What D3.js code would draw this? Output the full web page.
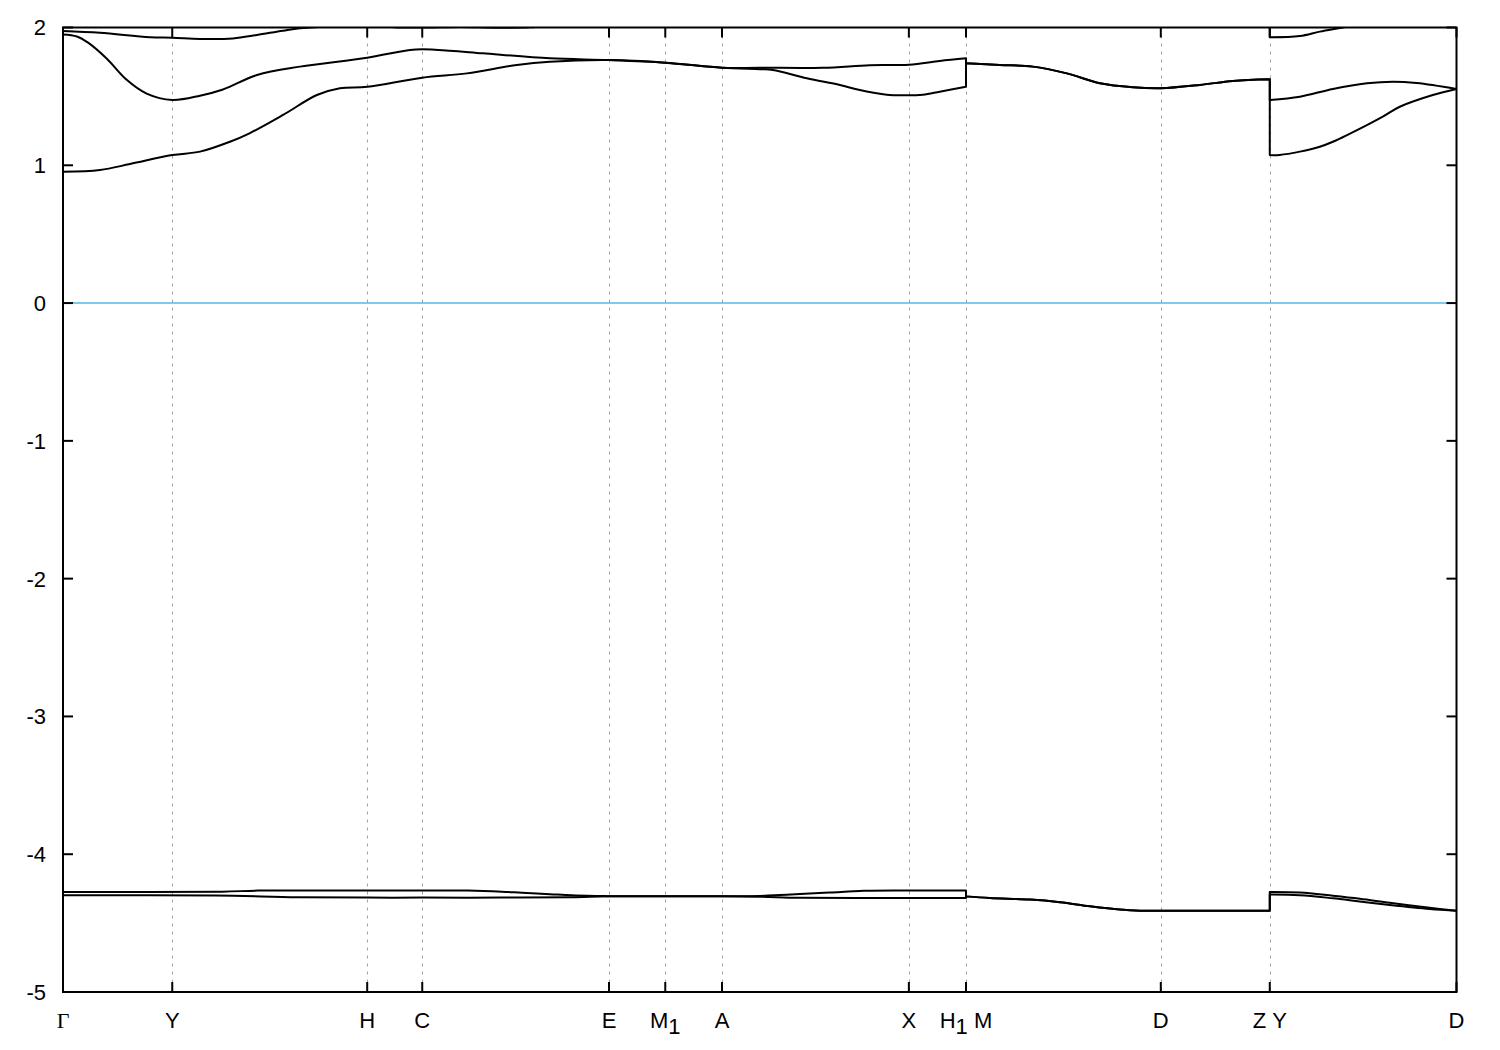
<!DOCTYPE html>
<html>
<head>
<meta charset="utf-8">
<script src="https://cdn.jsdelivr.net/npm/d3@7"></script>
<style>
  html, body { margin: 0; padding: 0; background: #fff; }
  svg { display: block; }
</style>
</head>
<body>
<svg id="chart" width="1500" height="1050"></svg>
<script>
// ---------- DATA ----------
const kTicks = [0, 0.784, 2.183, 2.578, 3.918, 4.322, 4.729, 6.070, 6.480, 7.878, 8.660, 10.0];
const kLabels = ["Γ", "Y", "H", "C", "E", "M|1", "A", "X", "H|1 M", "D", "Z Y", "D"];
const yTicks = [-5, -4, -3, -2, -1, 0, 1, 2];

// bands: [k, E]; repeated k marks a discontinuity (vertical jump)
const bandC1 = [
  [0, 0.953], [0.265, 0.966], [0.481, 1.009], [0.784, 1.074], [0.983, 1.099], [1.198, 1.171],
  [1.342, 1.234], [1.579, 1.365], [1.822, 1.510], [1.987, 1.559], [2.183, 1.570], [2.578, 1.636],
  [2.899, 1.667], [3.257, 1.728], [3.494, 1.752], [3.918, 1.764], [4.322, 1.745], [4.729, 1.708],
  [5.001, 1.697], [5.094, 1.692], [5.338, 1.631], [5.575, 1.583], [5.718, 1.546], [5.912, 1.512],
  [6.040, 1.508], [6.170, 1.512], [6.292, 1.534], [6.480, 1.570],
  [6.480, 1.740], [6.723, 1.728], [6.960, 1.716], [7.204, 1.667], [7.441, 1.595], [7.677, 1.566],
  [7.878, 1.559], [8.158, 1.583], [8.395, 1.612], [8.660, 1.624],
  [8.660, 1.074], [8.730, 1.075], [8.876, 1.099], [9.019, 1.135], [9.113, 1.171], [9.357, 1.292],
  [9.471, 1.353], [9.593, 1.425], [9.830, 1.510], [10.0, 1.554]
];
const bandC2 = [
  [0, 1.950], [0.100, 1.935], [0.180, 1.890], [0.313, 1.775], [0.457, 1.620], [0.600, 1.520],
  [0.784, 1.474], [0.983, 1.505], [1.148, 1.550], [1.392, 1.655], [1.701, 1.716], [2.183, 1.781],
  [2.490, 1.837], [2.578, 1.842], [2.777, 1.832], [3.013, 1.813], [3.494, 1.776], [3.918, 1.764],
  [4.322, 1.745], [4.729, 1.708], [5.001, 1.708], [5.453, 1.708], [5.790, 1.726], [6.070, 1.730],
  [6.292, 1.757], [6.480, 1.776],
  [6.480, 1.740], [6.723, 1.728], [6.960, 1.716], [7.204, 1.667], [7.441, 1.595], [7.677, 1.566],
  [7.878, 1.559], [8.158, 1.583], [8.395, 1.612], [8.660, 1.624],
  [8.660, 1.474], [8.876, 1.498], [9.113, 1.554], [9.357, 1.595], [9.543, 1.607], [9.715, 1.597],
  [10.0, 1.554]
];
const bandC3 = [
  [0, 1.975], [0.265, 1.962], [0.624, 1.929], [0.784, 1.926], [0.983, 1.917], [1.220, 1.921],
  [1.392, 1.946], [1.579, 1.977], [1.701, 1.994], [2.183, 2.012], [2.418, 2.000], [2.620, 2.000],
  [2.850, 2.004], [3.100, 1.999], [3.350, 2.001], [3.650, 2.030], [4.322, 2.100], [6.480, 2.150],
  [7.878, 2.150], [8.660, 2.150],
  [8.660, 1.929], [8.876, 1.938], [9.019, 1.970], [9.184, 2.000], [9.500, 2.060], [10.0, 2.100]
];
const bandV1 = [
  [0, -4.298], [1.091, -4.300], [1.679, -4.312], [2.183, -4.315], [2.578, -4.315], [3.136, -4.315],
  [3.645, -4.312], [3.918, -4.305], [4.322, -4.305], [4.729, -4.305], [5.001, -4.308],
  [5.288, -4.316], [6.070, -4.318], [6.480, -4.318],
  [6.480, -4.306], [6.651, -4.318], [6.939, -4.329], [7.154, -4.348], [7.370, -4.378],
  [7.585, -4.402], [7.730, -4.410], [7.878, -4.410], [8.660, -4.410],
  [8.660, -4.293], [8.876, -4.297], [9.113, -4.320], [9.306, -4.343], [9.521, -4.368],
  [9.808, -4.397], [10.0, -4.410]
];
const bandV2 = [
  [0, -4.274], [1.141, -4.272], [1.400, -4.264], [2.183, -4.264], [2.578, -4.264], [2.906, -4.264],
  [3.150, -4.272], [3.294, -4.280], [3.494, -4.290], [3.652, -4.298], [3.889, -4.304],
  [3.918, -4.305], [4.322, -4.305], [4.729, -4.305], [5.001, -4.303], [5.145, -4.296],
  [5.288, -4.288], [5.503, -4.278], [5.747, -4.266], [6.070, -4.264], [6.480, -4.264],
  [6.480, -4.306], [6.651, -4.318], [6.939, -4.329], [7.154, -4.348], [7.370, -4.378],
  [7.585, -4.402], [7.730, -4.410], [7.878, -4.410], [8.660, -4.410],
  [8.660, -4.274], [8.876, -4.278], [9.113, -4.302], [9.306, -4.324], [9.521, -4.353],
  [9.808, -4.389], [10.0, -4.410]
];
const bands = [bandC1, bandC2, bandC3, bandV1, bandV2];

// ---------- LAYOUT ----------
const pL = 63, pR = 1456.5, pT = 27.5, pB = 992;
const svg = d3.select("#chart");
const x = d3.scaleLinear().domain([0, 10]).range([pL, pR]);
const y = d3.scaleLinear().domain([-5, 2]).range([pB, pT]);

svg.append("defs").append("clipPath").attr("id", "plotclip")
  .append("rect").attr("x", pL).attr("y", pT).attr("width", pR - pL).attr("height", pB - pT);

// dashed k-point lines
svg.append("g").selectAll("line")
  .data(kTicks.filter((d, i) => i > 0 && i < kTicks.length - 1))
  .join("line")
  .attr("x1", d => Math.round(x(d)) + 0.5).attr("x2", d => Math.round(x(d)) + 0.5)
  .attr("y1", pT).attr("y2", pB)
  .attr("stroke", "#a0a0a0").attr("stroke-width", 1).attr("stroke-dasharray", "3,5");

// zero line
svg.append("line")
  .attr("x1", pL).attr("x2", pR).attr("y1", y(0)).attr("y2", y(0))
  .attr("stroke", "#56b4e9").attr("stroke-width", 1.5);

// bands
const lineGen = d3.line().x(d => x(d[0])).y(d => y(d[1])).curve(d3.curveCatmullRom.alpha(0.5));
function bandPath(pts) {
  const segs = [];
  let cur = [pts[0]];
  for (let i = 1; i < pts.length; i++) {
    if (pts[i][0] === pts[i - 1][0]) { segs.push(cur); cur = [pts[i]]; }
    else cur.push(pts[i]);
  }
  segs.push(cur);
  return segs.map((s, i) => {
    const d = lineGen(s);
    return i === 0 ? d : "L" + d.slice(1);
  }).join("");
}
svg.append("g").attr("clip-path", "url(#plotclip)")
  .selectAll("path").data(bands).join("path")
  .attr("d", d => bandPath(d))
  .attr("fill", "none").attr("stroke", "#000").attr("stroke-width", 2)
  .attr("stroke-linejoin", "round");

// border
svg.append("rect").attr("x", pL).attr("y", pT).attr("width", pR - pL).attr("height", pB - pT)
  .attr("fill", "none").attr("stroke", "#000").attr("stroke-width", 2);

// y ticks (left & right, inward)
const yt = svg.append("g");
yTicks.forEach(v => {
  yt.append("line").attr("x1", pL).attr("x2", pL + 10).attr("y1", y(v)).attr("y2", y(v))
    .attr("stroke", "#000").attr("stroke-width", 2);
  yt.append("line").attr("x1", pR - 10).attr("x2", pR).attr("y1", y(v)).attr("y2", y(v))
    .attr("stroke", "#000").attr("stroke-width", 2);
  yt.append("text").attr("x", 46).attr("y", y(v)).attr("dy", "0.36em")
    .attr("text-anchor", "end").attr("font-family", "Liberation Sans, Arial, sans-serif")
    .attr("font-size", 22).text(v);
});

// x ticks (bottom & top, inward) and labels
const xt = svg.append("g");
kTicks.forEach((k, i) => {
  const px = x(k);
  xt.append("line").attr("x1", px).attr("x2", px).attr("y1", pB).attr("y2", pB - 10)
    .attr("stroke", "#000").attr("stroke-width", 2);
  xt.append("line").attr("x1", px).attr("x2", px).attr("y1", pT).attr("y2", pT + 10)
    .attr("stroke", "#000").attr("stroke-width", 2);
  const lab = kLabels[i];
  const t = xt.append("text").attr("x", px).attr("y", 1028)
    .attr("text-anchor", "middle").attr("font-size", 22)
    .attr("font-family", lab === "Γ" ? "Liberation Serif, Times New Roman, serif" : "Liberation Sans, Arial, sans-serif");
  const words = lab.split(" ");
  let dropped = false;
  words.forEach((w, wi) => {
    const parts = w.split("|");
    t.append("tspan").attr("dy", dropped ? -6 : null).text((wi > 0 ? "\u00a0" : "") + parts[0]);
    dropped = false;
    if (parts[1]) { t.append("tspan").attr("dy", 6).text(parts[1]); dropped = true; }
  });
});
</script>
</body>
</html>
